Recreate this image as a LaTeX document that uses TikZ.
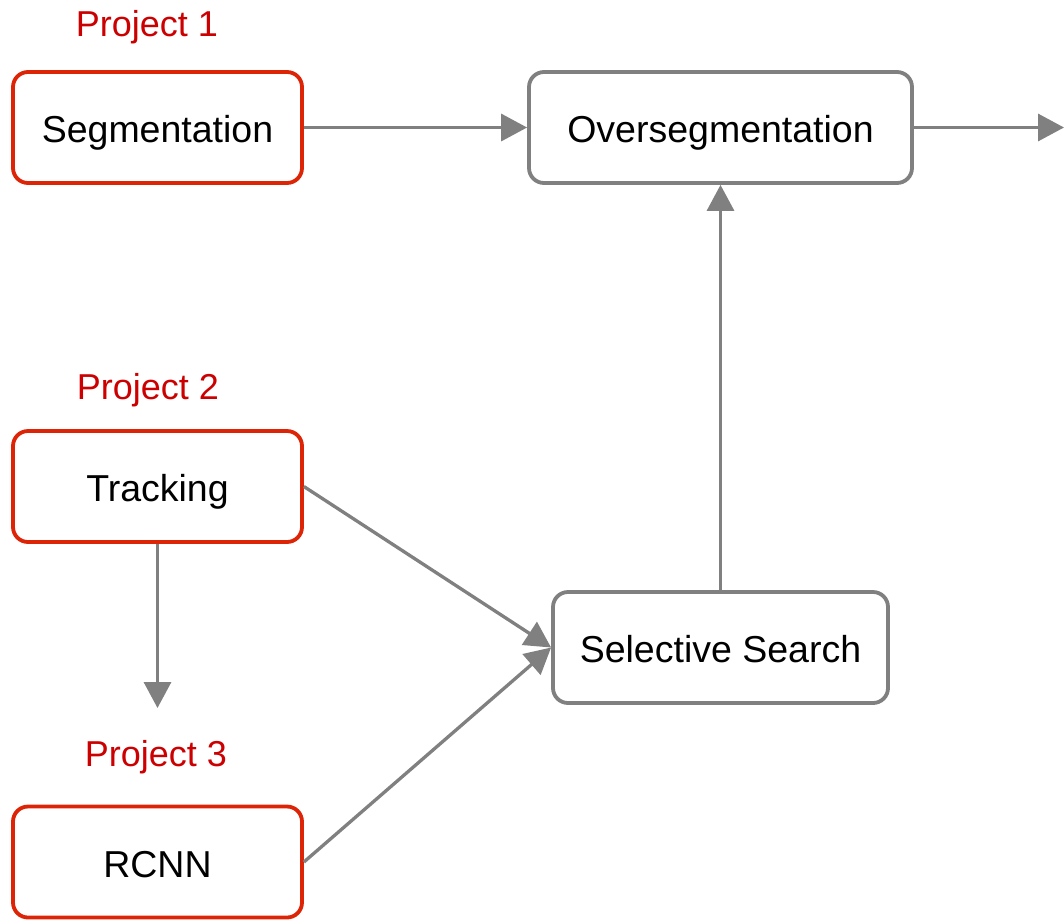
\documentclass[tikz,border=0pt]{standalone}
\usepackage{fontspec}
\setmainfont{Liberation Sans}
\usetikzlibrary{arrows.meta}
\definecolor{boxred}{RGB}{221,36,6}
\definecolor{labred}{RGB}{204,0,0}
\definecolor{linegray}{RGB}{128,128,128}
\begin{document}
\begin{tikzpicture}[x=1pt,y=-1pt,
  box/.style={draw, line width=3.8pt, rounded corners=15pt, fill=white,
    minimum height=111pt, inner sep=0pt, text height=30pt, text depth=0pt,
    font=\fontsize{37.5}{40}\selectfont},
  redbox/.style={box, draw=boxred, minimum width=289pt},
  graybox/.style={box, draw=linegray},
  projlabel/.style={anchor=base, text=labred, inner sep=0pt, font=\fontsize{36}{40}\selectfont},
  conn/.style={draw=linegray, line width=3.3pt, -{Triangle[length=26pt,width=27pt]}, fill=linegray}
]
\path[use as bounding box, clip] (0,0) rectangle (1064,919);
\fill[white] (0,0) rectangle (1064,919);

\node[projlabel] (p1) at (147,36) {Project 1};
\node[projlabel] (p2) at (148,399) {Project 2};
\node[projlabel] (p3) at (156,766) {Project 3};

\node[redbox] (seg) at (157.5,127.5) {Segmentation};
\node[graybox, minimum width=383pt] (over) at (720.5,127.5) {Oversegmentation};
\node[redbox] (track) at (157.5,486.5) {Tracking};
\node[redbox] (rcnn) at (157.5,862) {RCNN};
\node[graybox, minimum width=335pt] (ss) at (720.5,647.5) {Selective Search};

\coordinate (outR) at (1064,127.5);
\coordinate (outD) at (157.5,708);

\draw[conn] (seg.east) -- (over.west);
\draw[conn] (over.east) -- (outR);
\draw[conn] (ss.north) -- (over.south);
\draw[conn] (track.east) -- (ss.west);
\draw[conn] (rcnn.east) -- (ss.west);
\draw[conn] (track.south) -- (outD);
\end{tikzpicture}
\end{document}
